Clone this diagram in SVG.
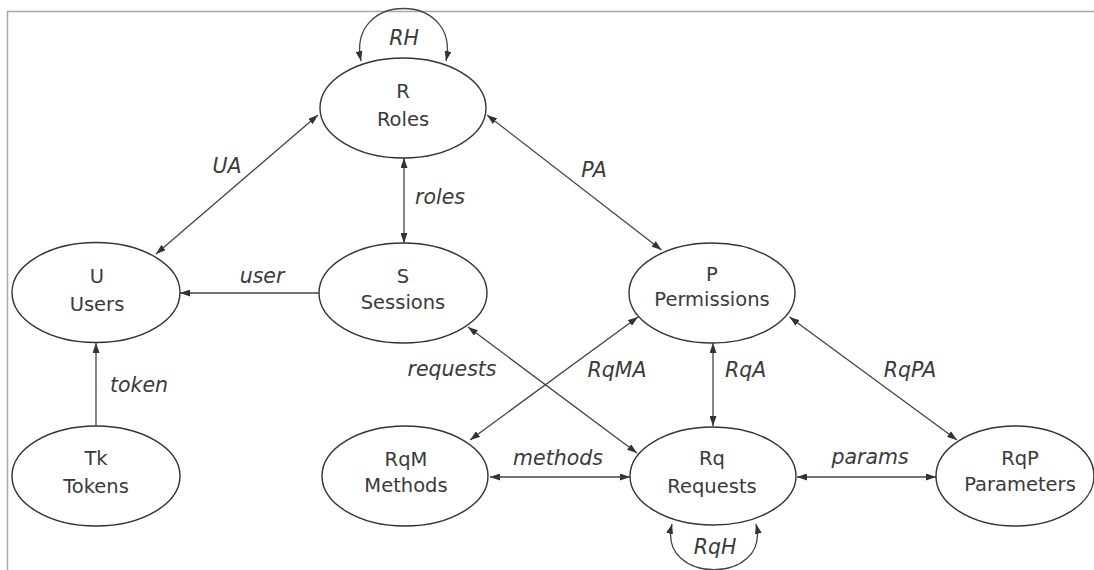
<svg xmlns="http://www.w3.org/2000/svg" width="1094" height="570" viewBox="0 0 1094 570">
<defs>
<style>
.node ellipse{fill:#fff;stroke:#333;stroke-width:1.4}
.nt{font-family:"DejaVu Sans",sans-serif;font-size:19.5px;fill:#3a3a3a;text-anchor:middle}
.lbl{font-family:"DejaVu Sans",sans-serif;font-size:20.5px;font-style:italic;fill:#3a3a3a}
.c{fill:none;stroke:#444;stroke-width:1.3}
.two{marker-start:url(#ah);marker-end:url(#ah)}
.one{marker-end:url(#ah)}
</style>
<marker id="ah" viewBox="0 0 10 7" refX="10" refY="3.5" markerWidth="10" markerHeight="7" markerUnits="userSpaceOnUse" orient="auto-start-reverse">
<path d="M0,0 L10,3.5 L0,7 z" fill="#333"/>
</marker>
</defs>
<rect width="1094" height="570" fill="#fff"/>
<path d="M7.5 570 V11.5 H1094" fill="none" stroke="#a8a8a8" stroke-width="1.5"/>

<g id="connectors">
<path class="c two" d="M361 61 C346 -9, 461 -9, 446 61"/>
<path class="c two" d="M672 524 C657 585, 771 585, 756 524"/>
<line class="c two" x1="318" y1="115" x2="156" y2="254"/>
<line class="c two" x1="404" y1="158" x2="404" y2="243"/>
<line class="c two" x1="487" y1="115" x2="661.5" y2="250"/>
<line class="c one" x1="320" y1="293" x2="180" y2="293"/>
<line class="c one" x1="96" y1="426" x2="96" y2="343"/>
<line class="c two" x1="468" y1="327" x2="637" y2="453"/>
<line class="c two" x1="470" y1="440" x2="638" y2="317"/>
<line class="c two" x1="713" y1="343" x2="713" y2="426"/>
<line class="c two" x1="789.5" y1="317" x2="957" y2="440"/>
<line class="c two" x1="490" y1="477" x2="630" y2="477"/>
<line class="c two" x1="797" y1="477" x2="936" y2="477"/>
<text class="lbl" x="404" y="45" text-anchor="middle">RH</text>
<text class="lbl" x="227" y="173" text-anchor="middle">UA</text>
<text class="lbl" x="415" y="204">roles</text>
<text class="lbl" x="262" y="283" text-anchor="middle">user</text>
<text class="lbl" x="594" y="177" text-anchor="middle">PA</text>
<text class="lbl" x="110" y="392">token</text>
<text class="lbl" x="452" y="376" text-anchor="middle">requests</text>
<text class="lbl" x="617" y="377" text-anchor="middle">RqMA</text>
<text class="lbl" x="725" y="377">RqA</text>
<text class="lbl" x="910" y="377" text-anchor="middle">RqPA</text>
<text class="lbl" x="558" y="465" text-anchor="middle">methods</text>
<text class="lbl" x="870" y="464" text-anchor="middle">params</text>
<text class="lbl" x="715" y="554" text-anchor="middle">RqH</text>
</g>

<g id="node-R" class="node"><ellipse cx="403" cy="108" rx="83" ry="50"/><text class="nt" x="403" y="98">R</text><text class="nt" x="403" y="126">Roles</text></g>
<g id="node-U" class="node"><ellipse cx="96" cy="292.5" rx="84" ry="50"/><text class="nt" x="97" y="283">U</text><text class="nt" x="97" y="311">Users</text></g>
<g id="node-S" class="node"><ellipse cx="403" cy="293" rx="84" ry="50"/><text class="nt" x="403" y="283">S</text><text class="nt" x="403" y="309">Sessions</text></g>
<g id="node-Tk" class="node"><ellipse cx="96" cy="476" rx="84" ry="50"/><text class="nt" x="96" y="465">Tk</text><text class="nt" x="96" y="493">Tokens</text></g>
<g id="node-RqM" class="node"><ellipse cx="405" cy="476" rx="83" ry="50"/><text class="nt" x="406" y="466">RqM</text><text class="nt" x="406" y="492">Methods</text></g>
<g id="node-P" class="node"><ellipse cx="712" cy="293" rx="83" ry="50"/><text class="nt" x="712" y="281">P</text><text class="nt" x="712" y="306">Permissions</text></g>
<g id="node-Rq" class="node"><ellipse cx="713" cy="476" rx="83" ry="49"/><text class="nt" x="712" y="465">Rq</text><text class="nt" x="712" y="493">Requests</text></g>
<g id="node-RqP" class="node"><ellipse cx="1015" cy="476" rx="79" ry="50"/><text class="nt" x="1020" y="465">RqP</text><text class="nt" x="1020" y="491">Parameters</text></g>
</svg>
